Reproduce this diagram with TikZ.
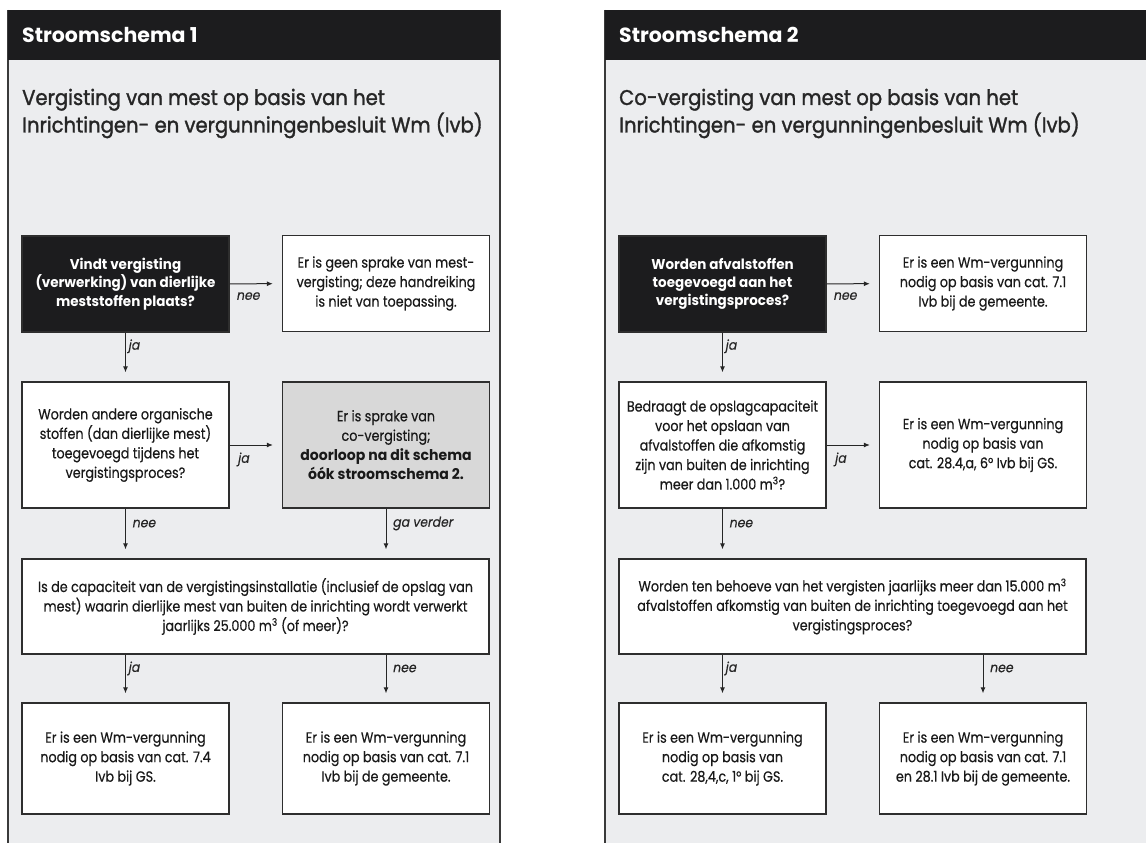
\documentclass[tikz,border=0pt]{standalone}
\usepackage{fontspec}
\setmainfont[FakeStretch=0.86,FakeBold=0.4]{Poppins}
\newfontfamily\boldfam[FakeStretch=0.95]{Poppins}
\newfontfamily\labfont[FakeSlant=0.18,FakeStretch=0.92,FakeBold=0.3]{Poppins}
\newfontfamily\hdrfont{Poppins}
\newfontfamily\subfont[FakeStretch=0.92,FakeBold=1.4]{Poppins}
\usetikzlibrary{arrows.meta}
\definecolor{panelbg}{HTML}{ECEDEF}
\definecolor{hdrbg}{HTML}{1C1C1E}
\definecolor{boxline}{HTML}{2E2E2E}
\definecolor{graybox}{HTML}{D8D8D8}
\definecolor{panelline}{HTML}{3A3A3A}
\newcommand{\bl}[1]{{\boldfam\bfseries #1}}
\tikzset{
  box/.style={draw=boxline, line width=1.3pt, fill=white, align=center, inner sep=0pt,
    font=\fontsize{14.8}{19.5}\selectfont, text=black!90},
  darkbox/.style={box, fill=hdrbg, text=white, font=\boldfam\fontsize{14.2}{18.3}\selectfont\bfseries},
  greybox/.style={box, fill=graybox},
  small/.style={minimum width=207pt, minimum height=96pt},
  tall/.style={minimum width=207pt, minimum height=126pt},
  wide/.style={minimum width=467pt, minimum height=95pt},
  low/.style={minimum width=207pt, minimum height=111pt},
  arr/.style={draw=black!85, line width=1pt, -{Latex[length=6pt,width=5pt]}, shorten >=9pt},
  lab/.style={font=\labfont\fontsize{13.5}{15}\selectfont, text=black!85, inner sep=2pt},
  hdrtext/.style={font=\hdrfont\fontsize{20.5}{24}\selectfont\bfseries, text=white, anchor=west, inner sep=0pt},
  subtext/.style={font=\subfont\fontsize{21.3}{27.5}\selectfont, text=black!85, anchor=west, align=left, inner sep=0pt},
}
\begin{document}
\begin{tikzpicture}[x=1pt,y=-1pt]
\useasboundingbox (0,0) rectangle (1146,843);
% panels
\fill[panelbg] (8,10) rectangle (500,843);
\draw[panelline, line width=1.4pt] (8,10) -- (8,843) (500,10) -- (500,843);
\fill[hdrbg] (8,10) rectangle (500,60);
\fill[panelbg] (605,10) rectangle (1146,843);
\draw[panelline, line width=1.4pt] (605,10) -- (605,843);
\fill[hdrbg] (605,10) rectangle (1146,60);
\node[hdrtext] (h1) at (22,35) {Stroomschema 1};
\node[hdrtext] (h2) at (619,35) {Stroomschema 2};
\node[subtext] (s1) at (22,113.5) {Vergisting van mest op basis van het\\Inrichtingen- en vergunningenbesluit Wm (Ivb)};
\node[subtext] (s2) at (619,113.5) {Co-vergisting van mest op basis van het\\Inrichtingen- en vergunningenbesluit Wm (Ivb)};
% schema 1
\node[darkbox, small] (A) at (125.5,284) {Vindt vergisting\\(verwerking) van dierlijke\\meststoffen plaats?};
\node[box, small] (B) at (386,283.5) {Er is geen sprake van mest-\\vergisting; deze handreiking\\is niet van toepassing.};
\node[box, tall] (C) at (125.5,445) {Worden andere organische\\stoffen (dan dierlijke mest)\\toegevoegd tijdens het\\vergistingsproces?};
\node[greybox, tall] (D) at (386,445) {Er is sprake van\\co-vergisting;\\\bl{doorloop na dit schema}\\\bl{óók stroomschema 2.}};
\node[box, wide] (E) at (255.5,606.5) {Is de capaciteit van de vergistingsinstallatie (inclusief de opslag van\\mest) waarin dierlijke mest van buiten de inrichting wordt verwerkt\\jaarlijks 25.000 m\textsuperscript{3} (of meer)?};
\node[box, low] (F) at (125.5,758.5) {Er is een Wm-vergunning\\nodig op basis van cat. 7.4\\Ivb bij GS.};
\node[box, low] (G) at (386,758.5) {Er is een Wm-vergunning\\nodig op basis van cat. 7.1\\Ivb bij de gemeente.};
\draw[arr] (A) -- node[lab, below=6pt, pos=0.35] (l1) {nee} (B);
\draw[arr] (A) -- node[lab, right, pos=0.28] (l2) {ja} (C);
\draw[arr] (C) -- node[lab, below=5pt, pos=0.26] (l3) {ja} (D);
\draw[arr] (C.south) -- node[lab, right=4pt, pos=0.3] (l4) {nee} (C.south |- E.north);
\draw[arr] (D.south) -- node[lab, right=4pt, pos=0.3] (l5) {ga verder} (D.south |- E.north);
\draw[arr] (E.south -| F.north) -- node[lab, right, pos=0.29] (l6) {ja} (F.north);
\draw[arr] (E.south -| G.north) -- node[lab, right=4pt, pos=0.29] (l7) {nee} (G.north);
% schema 2
\node[darkbox, small] (A2) at (722.5,284) {Worden afvalstoffen\\toegevoegd aan het\\vergistingsproces?};
\node[box, small] (B2) at (983,283.5) {Er is een Wm-vergunning\\nodig op basis van cat. 7.1\\Ivb bij de gemeente.};
\node[box, tall] (C2) at (722.5,445) {Bedraagt de opslagcapaciteit\\voor het opslaan van\\afvalstoffen die afkomstig\\zijn van buiten de inrichting\\meer dan 1.000 m\textsuperscript{3}?};
\node[box, tall] (D2) at (983,445) {Er is een Wm-vergunning\\nodig op basis van\\cat. 28.4,a, 6° Ivb bij GS.};
\node[box, wide] (E2) at (852.5,606.5) {Worden ten behoeve van het vergisten jaarlijks meer dan 15.000 m\textsuperscript{3}\\afvalstoffen afkomstig van buiten de inrichting toegevoegd aan het\\vergistingsproces?};
\node[box, low] (F2) at (722.5,758.5) {Er is een Wm-vergunning\\nodig op basis van\\cat. 28,4,c, 1° bij GS.};
\node[box, low] (G2) at (983,758.5) {Er is een Wm-vergunning\\nodig op basis van cat. 7.1\\en 28.1 Ivb bij de gemeente.};
\draw[arr] (A2) -- node[lab, below=6pt, pos=0.35] (m1) {nee} (B2);
\draw[arr] (A2) -- node[lab, right, pos=0.28] (m2) {ja} (C2);
\draw[arr] (C2) -- node[lab, below=5pt, pos=0.26] (m3) {ja} (D2);
\draw[arr] (C2.south) -- node[lab, right=4pt, pos=0.3] (m4) {nee} (C2.south |- E2.north);
\draw[arr] (E2.south -| F2.north) -- node[lab, right, pos=0.29] (m6) {ja} (F2.north);
\draw[arr] (E2.south -| G2.north) -- node[lab, right=4pt, pos=0.29] (m7) {nee} (G2.north);
\end{tikzpicture}
\end{document}
